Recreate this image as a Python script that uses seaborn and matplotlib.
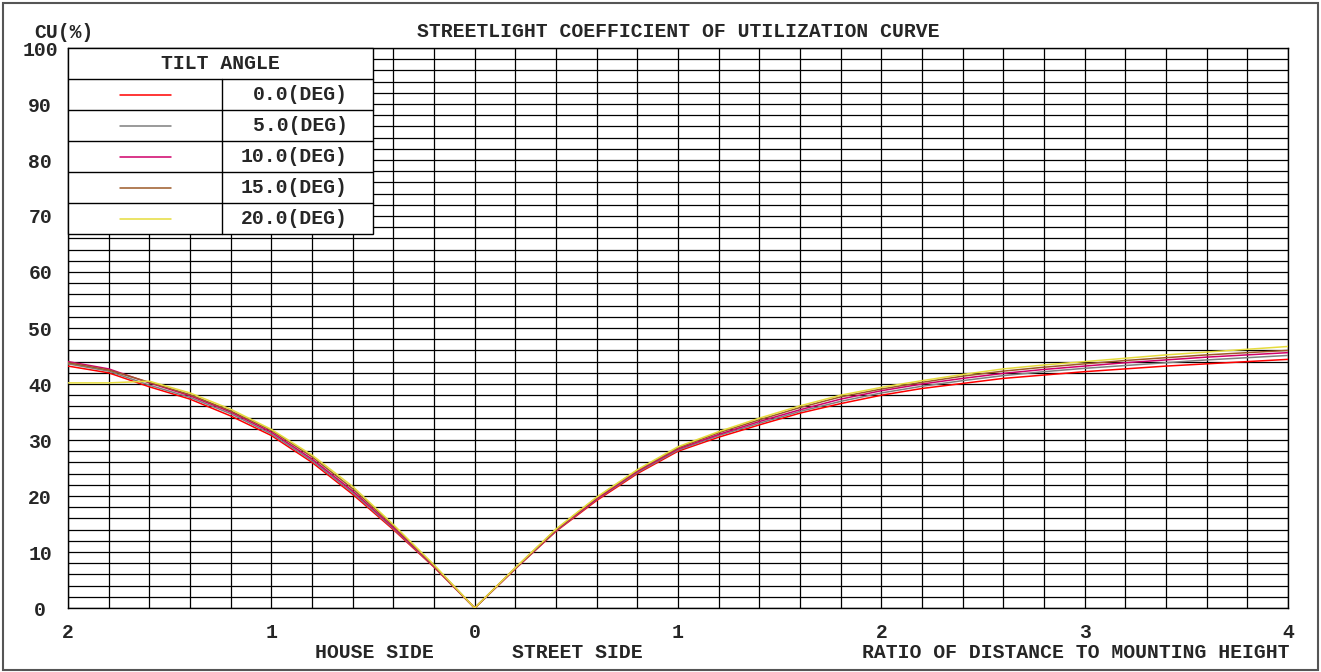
import numpy as np
import pandas as pd
import matplotlib
matplotlib.use("Agg")
import matplotlib.pyplot as plt
from matplotlib.patches import Rectangle
from matplotlib.lines import Line2D
import seaborn as sns

# ---- data ----
tilt_labels = ["0.0(DEG)", "5.0(DEG)", "10.0(DEG)", "15.0(DEG)", "20.0(DEG)"]
colors = ["#ff0000", "#7f7f7f", "#d0006a", "#9c5a28", "#e6dc3c"]

house_dist = [2.0, 1.8, 1.6, 1.4, 1.2, 1.0, 0.8, 0.6, 0.4, 0.2, 0.0]
street_dist = [0.0, 0.2, 0.4, 0.6, 0.8, 1.0, 1.2, 1.4, 1.6, 1.8, 2.0,
               2.2, 2.4, 2.6, 2.8, 3.0, 3.2, 3.4, 3.6, 3.8, 4.0]

house_0 = [43.2, 42.0, 39.5, 37.3, 34.3, 30.8, 26.0, 20.3, 14.0, 7.3, 0.0]
house_5 = [43.6, 42.3, 39.8, 37.6, 34.7, 31.1, 26.3, 20.6, 14.2, 7.4, 0.0]
house_10 = [44.0, 42.7, 40.2, 37.9, 35.0, 31.4, 26.6, 20.9, 14.4, 7.5, 0.0]
house_15 = [43.8, 42.5, 40.3, 38.1, 35.2, 31.7, 27.0, 21.3, 14.7, 7.6, 0.0]
house_20 = [40.2, 40.2, 40.5, 38.4, 35.5, 31.9, 27.3, 21.7, 14.9, 7.7, 0.0]

street_0 = [0.0, 7.0, 13.7, 19.2, 24.0, 28.0, 30.5, 32.7, 34.8, 36.5, 38.0,
            39.2, 40.1, 41.0, 41.6, 42.2, 42.7, 43.2, 43.6, 44.0, 44.4]
street_5 = [0.0, 7.05, 13.8, 19.4, 24.2, 28.2, 30.8, 33.0, 35.1, 36.9, 38.4,
            39.6, 40.6, 41.5, 42.2, 42.8, 43.3, 43.8, 44.3, 44.7, 45.1]
street_10 = [0.0, 7.1, 13.9, 19.5, 24.4, 28.4, 31.0, 33.3, 35.4, 37.3, 38.8,
             40.0, 41.0, 41.9, 42.6, 43.2, 43.8, 44.3, 44.8, 45.2, 45.6]
street_15 = [0.0, 7.15, 14.0, 19.7, 24.6, 28.6, 31.3, 33.6, 35.8, 37.7, 39.1,
             40.3, 41.4, 42.3, 43.0, 43.6, 44.2, 44.7, 45.2, 45.6, 46.0]
street_20 = [0.0, 7.2, 14.1, 19.8, 24.7, 28.8, 31.5, 33.9, 36.1, 38.0, 39.4,
             40.6, 41.7, 42.7, 43.4, 44.0, 44.6, 45.2, 45.7, 46.2, 46.7]

x_tick_vals = [-2, -1, 0, 1, 2, 3, 4]
x_tick_labels = ["2", "1", "0", "1", "2", "3", "4"]
y_tick_vals = list(range(0, 101, 10))

# ---- build long-form table ----
house_series = [house_0, house_5, house_10, house_15, house_20]
street_series = [street_0, street_5, street_10, street_15, street_20]
rows = []
for lab, hs, ss in zip(tilt_labels, house_series, street_series):
    for d, v in zip(house_dist, hs):
        if d > 0:
            rows.append((-d, v, lab))
    for d, v in zip(street_dist, ss):
        rows.append((d, v, lab))
df = pd.DataFrame(rows, columns=["x", "cu", "tilt"])

# ---- style ----
sns.set_theme(style="white")
plt.rcParams["font.family"] = ["Liberation Mono", "DejaVu Sans Mono"]
plt.rcParams["font.weight"] = "bold"
FS = 14.2

fig = plt.figure(figsize=(13.21, 6.72), dpi=100)
ax = fig.add_axes([68 / 1321, 64 / 672, 1220 / 1321, 560 / 672])

sns.lineplot(data=df, x="x", y="cu", hue="tilt", hue_order=tilt_labels,
             palette=dict(zip(tilt_labels, colors)), legend=False,
             linewidth=1.1, ax=ax, zorder=3, estimator=None)

ax.set_xlim(-2, 4)
ax.set_ylim(0, 100)
ax.set_xticks(x_tick_vals)
ax.set_xticklabels(x_tick_labels, fontsize=FS, fontweight="bold")
ax.set_xticks(np.arange(-2, 4.001, 0.2), minor=True)
ax.set_yticks(y_tick_vals)
ax.set_yticklabels([str(v) for v in y_tick_vals], fontsize=FS, fontweight="bold",
                   ha="center")
ax.set_yticks(np.arange(0, 100.1, 2), minor=True)
ax.tick_params(which="both", length=0)
ax.tick_params(axis="y", pad=20)
ax.tick_params(axis="x", pad=11)
ax.grid(True, which="both", color="black", linewidth=0.9)
ax.set_axisbelow(True)
for s in ax.spines.values():
    s.set_color("black")
    s.set_linewidth(1.0)
ax.set_xlabel("")
ax.set_ylabel("")

# ---- texts ----
ax.text(0.5, 1.03, "STREETLIGHT COEFFICIENT OF UTILIZATION CURVE",
        transform=ax.transAxes, ha="center", va="center", fontsize=FS, fontweight="bold")
fig.text(64 / 1321, 1 - 32 / 672, "CU(%)", ha="center", va="center",
         fontsize=FS, fontweight="bold")
fig.text(374 / 1321, 1 - 652 / 672, "HOUSE SIDE", ha="center", va="center",
         fontsize=FS, fontweight="bold")
fig.text(577 / 1321, 1 - 652 / 672, "STREET SIDE", ha="center", va="center",
         fontsize=FS, fontweight="bold")
fig.text(1290 / 1321, 1 - 652 / 672, "RATIO OF DISTANCE TO MOUNTING HEIGHT",
         ha="right", va="center", fontsize=FS, fontweight="bold")

# ---- legend table ----
W = 1220.0
H = 560.0
lx0, lx1 = 0.0, (373 - 68) / W
ldiv = (222 - 68) / W
ly_top = 1.0
title_h = 31 / H
row_h = 31 / H
ly_bot = ly_top - title_h - row_h * len(tilt_labels)
ax.add_patch(Rectangle((lx0, ly_bot), lx1 - lx0, ly_top - ly_bot,
                       transform=ax.transAxes, facecolor="white",
                       edgecolor="black", linewidth=1.0, zorder=5, clip_on=False))
ax.text((lx0 + lx1) / 2, ly_top - title_h / 2, "TILT ANGLE", transform=ax.transAxes,
        ha="center", va="center", fontsize=FS, fontweight="bold", zorder=6)
for i, (lab, col) in enumerate(zip(tilt_labels, colors)):
    top = ly_top - title_h - i * row_h
    ax.add_line(Line2D([lx0, lx1], [top, top], transform=ax.transAxes,
                       color="black", linewidth=1.0, zorder=6))
    yc = top - row_h / 2
    ax.add_line(Line2D([(120 - 68) / W, (171 - 68) / W], [yc, yc],
                       transform=ax.transAxes, color=col, linewidth=1.1, zorder=6))
    ax.text((348 - 68) / W, yc, lab, transform=ax.transAxes, ha="right",
            va="center", fontsize=FS, fontweight="bold", zorder=6)
ax.add_line(Line2D([ldiv, ldiv], [ly_bot, ly_top - title_h], transform=ax.transAxes,
                   color="black", linewidth=1.0, zorder=6))

# ---- outer frame ----
fig.patches.append(Rectangle((3 / 1321, 2 / 672), 1315 / 1321, 667 / 672,
                             transform=fig.transFigure, fill=False,
                             edgecolor="#555555", linewidth=1.5))

fig.savefig("out.png", dpi=100, facecolor="white")
